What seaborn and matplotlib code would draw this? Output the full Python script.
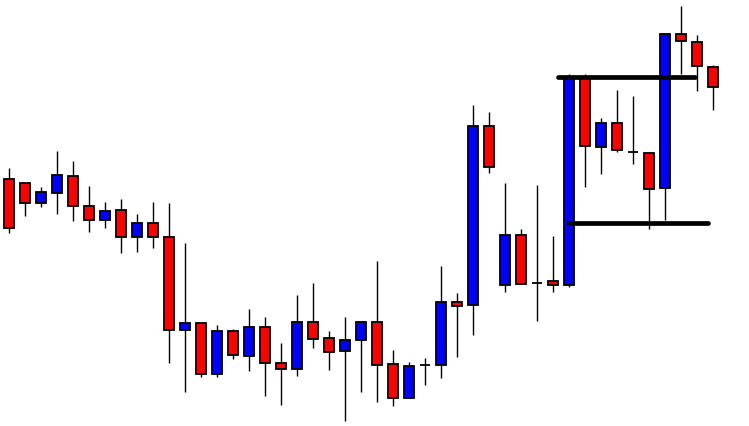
import numpy as np
import pandas as pd
import matplotlib
matplotlib.use("Agg")
import matplotlib.pyplot as plt
import seaborn as sns

# candle prices (chart units), one entry per bar
opens = [247, 243, 223, 233, 250, 220, 206, 216, 189, 203,
         189, 96, 103, 52, 95, 70, 99, 63, 57, 104,
         88, 75, 86, 104, 62, 28, 61, 61, 124, 121,
         300, 141, 191, 143, 145, 141, 349, 279, 303, 274,
         273, 238, 392, 384, 359]
highs = [258, 243, 239, 275, 265, 240, 224, 227, 212, 224,
         223, 183, 103, 101, 97, 117, 109, 83, 131, 143,
         95, 109, 105, 165, 76, 64, 68, 160, 133, 321,
         314, 243, 197, 241, 190, 352, 352, 308, 336, 330,
         273, 392, 420, 391, 361]
lows = [193, 210, 219, 212, 205, 194, 198, 173, 174, 178,
        63, 34, 49, 49, 67, 55, 30, 21, 50, 78,
        56, 5, 34, 24, 20, 28, 41, 48, 69, 91,
        253, 134, 142, 105, 134, 139, 239, 252, 274, 262,
        197, 206, 352, 335, 316]
closes = [198, 223, 234, 251, 220, 206, 215, 189, 203, 189,
          96, 103, 52, 95, 71, 99, 63, 57, 104, 87,
          74, 86, 104, 61, 28, 60, 61, 124, 120, 300,
          259, 191, 142, 143, 141, 349, 280, 303, 276, 274,
          237, 392, 385, 360, 339]

# drawn levels: price, first bar, last bar
resistance = (349, 34.3, 42.9)
support = (203, 35.0, 43.7)


def main():
    sns.set_style("white")
    df = pd.DataFrame({"open": opens, "high": highs, "low": lows, "close": closes})
    df["x"] = np.arange(len(df))
    df["bottom"] = df[["open", "close"]].min(axis=1)
    df["height"] = (df["close"] - df["open"]).abs()
    df["color"] = np.where(df["close"] > df["open"], "#0000FF", "#FF0000")

    fig = plt.figure(figsize=(7.49, 4.26), dpi=100)
    ax = fig.add_axes([0, 0, 1, 1])

    # wicks
    ax.vlines(df["x"], df["low"], df["high"], color="black", linewidth=1.0, zorder=1)
    # bodies
    ax.bar(df["x"], df["height"], bottom=df["bottom"], width=0.63,
           color=df["color"], edgecolor="black", linewidth=1.3, zorder=2)

    for price, x0, x1 in (resistance, support):
        ax.plot([x0, x1], [price, price], color="black", linewidth=3.4,
                solid_capstyle="round", zorder=3)

    ax.set_xlim(-0.5625, 46.25)
    ax.set_ylim(0, 426)
    ax.axis("off")
    fig.savefig("out.png", dpi=100, facecolor="white")
    plt.close(fig)


if __name__ == "__main__":
    main()
